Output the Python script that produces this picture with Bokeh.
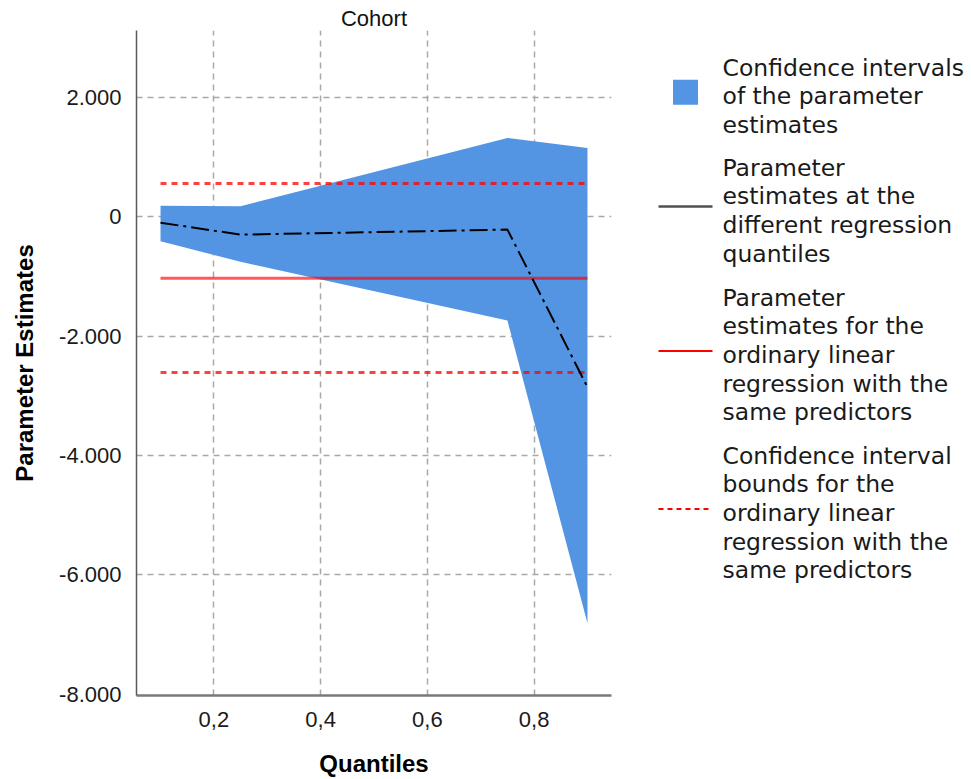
from bokeh.plotting import figure
from bokeh.layouts import row
from bokeh.models import Range1d, FixedTicker, CustomJSTickFormatter
from bokeh.embed import file_html
from bokeh.resources import INLINE
from bokeh.core.properties import value

# ---- data ----
quantiles = [0.1, 0.25, 0.75, 0.9]
estimates = [-100, -300, -215, -2855]
ci_upper = [185, 175, 1320, 1150]
ci_lower = [-410, -755, -1740, -6810]
ols_estimate = -1030
ols_ci_upper = 555
ols_ci_lower = -2610

x_ticks = [0.2, 0.4, 0.6, 0.8]
x_tick_labels = ["0,2", "0,4", "0,6", "0,8"]
y_ticks = [-8000, -6000, -4000, -2000, 0, 2000]
y_tick_labels = ["-8.000", "-6.000", "-4.000", "-2.000", "0", "2.000"]

title_text = "Cohort"
x_label = "Quantiles"
y_label = "Parameter Estimates"
legend_labels = [
    ["Confidence intervals", "of the parameter", "estimates"],
    ["Parameter", "estimates at the", "different regression", "quantiles"],
    ["Parameter", "estimates for the", "ordinary linear", "regression with the", "same predictors"],
    ["Confidence interval", "bounds for the", "ordinary linear", "regression with the", "same predictors"],
]

BAND = "#5495e3"
RED = "#ff0000"
AXFONT = "Liberation Sans"

FRAME_H = 665
TOP = 30
BOTTOM = 82
LEFT = 136
RIGHT = 27
FRAME_W = 475
LEG_W = 330
MAIN_W = LEFT + FRAME_W + RIGHT

p = figure(frame_width=FRAME_W, frame_height=FRAME_H,
           x_range=Range1d(0.055, 0.945), y_range=Range1d(-8020, 3120),
           min_border_left=LEFT, min_border_right=RIGHT, min_border_top=TOP, min_border_bottom=BOTTOM,
           output_backend="svg", toolbar_location=None, title=title_text)
p.outline_line_color = None
p.background_fill_color = "white"
p.border_fill_color = "white"
p.title.text_font = AXFONT
p.title.text_font_size = "22px"
p.title.text_font_style = "normal"
p.title.align = "center"
p.title.standoff = 0
p.title.text_color = "#111111"

p.varea(x=quantiles, y1=ci_lower, y2=ci_upper, fill_color=BAND)
xs_ols = [quantiles[0], quantiles[-1]]
p.line(x=xs_ols, y=[ols_estimate, ols_estimate], line_color=RED, line_alpha=0.65, line_width=3)
p.line(x=xs_ols, y=[ols_ci_upper, ols_ci_upper], line_color=RED, line_alpha=0.75, line_width=3, line_dash="6 5")
p.line(x=xs_ols, y=[ols_ci_lower, ols_ci_lower], line_color=RED, line_alpha=0.75, line_width=3, line_dash="6 5")
p.line(x=quantiles, y=estimates, line_color="black", line_width=2, line_dash="18 5 3 5")

fmt_code = "const i = tv.findIndex(t => Math.abs(t - tick) < 1e-6); return i >= 0 ? tl[i] : '';"
p.xaxis.ticker = FixedTicker(ticks=x_ticks)
p.xaxis.formatter = CustomJSTickFormatter(args=dict(tv=x_ticks, tl=x_tick_labels), code=fmt_code)
p.yaxis.ticker = FixedTicker(ticks=y_ticks)
p.yaxis.formatter = CustomJSTickFormatter(args=dict(tv=y_ticks, tl=y_tick_labels), code=fmt_code)

for ax in (p.xaxis[0], p.yaxis[0]):
    ax.major_tick_line_color = None
    ax.minor_tick_line_color = None
    ax.major_tick_out = 0
    ax.major_tick_in = 0
    ax.minor_tick_out = 0
    ax.minor_tick_in = 0
    ax.major_label_text_font = AXFONT
    ax.major_label_text_font_size = "22px"
    ax.major_label_text_color = "#1a1a1a"
    ax.axis_label_text_font = AXFONT
    ax.axis_label_text_font_size = "24px"
    ax.axis_label_text_font_style = "bold"
    ax.axis_label_text_color = "#000000"

p.xaxis.axis_label = x_label
p.yaxis.axis_label = y_label
p.xaxis.axis_line_color = "#7a7a7a"
p.xaxis.axis_line_width = 2.5
p.yaxis.axis_line_color = "#5a5a5a"
p.yaxis.axis_line_width = 1.5
p.xaxis.major_label_standoff = 16
p.xaxis.axis_label_standoff = 20
p.yaxis.major_label_standoff = 15
p.yaxis.axis_label_standoff = 18

p.xgrid.ticker = FixedTicker(ticks=x_ticks)
p.ygrid.ticker = FixedTicker(ticks=y_ticks[1:])
for g in (p.xgrid[0], p.ygrid[0]):
    g.grid_line_color = "#a8a8a8"
    g.grid_line_width = 1.5
    g.grid_line_dash = "6 5"

# ---- legend panel (coordinates in page pixels, same frame rows as the plot) ----
lg = figure(frame_width=LEG_W, frame_height=FRAME_H,
            x_range=Range1d(MAIN_W, MAIN_W + LEG_W), y_range=Range1d(696, 31),
            x_axis_type=None, y_axis_type=None, min_border_left=0, min_border_right=0,
            min_border_top=TOP, min_border_bottom=BOTTOM,
            output_backend="svg", toolbar_location=None)
lg.outline_line_color = None
lg.grid.visible = False
lg.background_fill_color = "white"
lg.border_fill_color = "white"

group_tops = [68, 168, 298, 456]
line_h = 28.7
text_x = 722
for gi, lines in enumerate(legend_labels):
    ys = [group_tops[gi] + k * line_h for k in range(len(lines))]
    lg.text(x=[text_x] * len(lines), y=ys, text=lines, text_font=value("DejaVu Sans"),
            text_font_size="23.5px", text_baseline="middle", text_align="left", text_color="#1a1a1a")
    cy = (ys[0] + ys[-1]) / 2 - 4
    if gi == 0:
        lg.rect(x=[685], y=[cy], width=25, height=25, fill_color=BAND, line_color=None)
    elif gi == 1:
        lg.line(x=[658, 712], y=[cy, cy], line_color="#505050", line_width=2.5)
    elif gi == 2:
        lg.line(x=[658, 712], y=[cy, cy], line_color=RED, line_width=2)
    else:
        lg.line(x=[658, 712], y=[cy, cy], line_color=RED, line_width=2, line_dash="5 4")

layout = row(p, lg)
open("out.html", "w").write(file_html(layout, INLINE))
